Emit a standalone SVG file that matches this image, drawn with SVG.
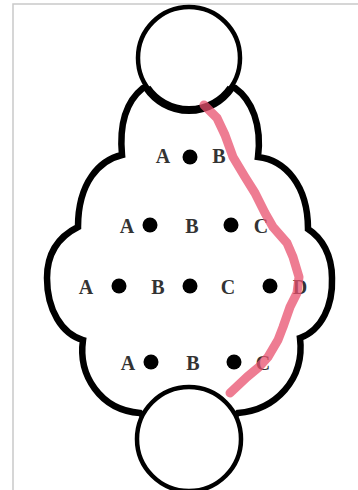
<svg xmlns="http://www.w3.org/2000/svg" width="358" height="490" viewBox="0 0 358 490">
<style>
.frame{fill:none;stroke:#c9c9c9;stroke-width:1.5}
.cloud{fill:#fff;stroke:#000;stroke-width:6.5;stroke-linejoin:miter}
.circ{fill:#fff;stroke:#000;stroke-width:4.5}
.thick{fill:none;stroke:#000;stroke-width:8}
.dot{fill:#000}
.lbl{font-family:"Liberation Serif","Times New Roman",serif;font-weight:bold;font-size:20px;fill:#333;text-anchor:middle}
.route{fill:none;stroke:#e8506e;stroke-opacity:0.75;stroke-width:9;stroke-linecap:round;stroke-linejoin:round}
</style>
<rect width="358" height="490" fill="#fff"/>
<path class="frame" d="M13,490 L13,4 L358,4"/>
<g id="cloud">
<path class="cloud" d="M143,88 C128,100 119,122 122,155 C100,160 78,182 78,227 C60,236 47,252 47,278 C47,310 62,334 83,340 C78,375 100,410 140,413 L160,430 L218,430 L238,413 C275,410 305,380 300,338 C322,330 333,305 332,278 C332,255 322,238 308,229 C308,185 285,160 258,157 C262,125 252,100 235,88 L210,78 L168,78 Z"/>
</g>
<g id="top-node">
<circle class="circ" cx="189" cy="58" r="51"/>
<path class="thick" d="M147,88 A51,51 0 0 0 231,88"/>
</g>
<g id="bottom-node">
<circle class="circ" cx="189" cy="439" r="52"/>
</g>
<g id="row1">
<circle class="dot" cx="190" cy="157" r="7.5"/>
<text class="lbl" x="163" y="163">A</text>
<text class="lbl" x="219" y="163">B</text>
</g>
<g id="row2">
<circle class="dot" cx="150" cy="225" r="7.5"/>
<circle class="dot" cx="231" cy="225" r="7.5"/>
<text class="lbl" x="127" y="233">A</text>
<text class="lbl" x="192" y="233">B</text>
<text class="lbl" x="261" y="233">C</text>
</g>
<g id="row3">
<circle class="dot" cx="119" cy="286" r="7.5"/>
<circle class="dot" cx="190" cy="286" r="7.5"/>
<circle class="dot" cx="270" cy="286" r="7.5"/>
<text class="lbl" x="86" y="294">A</text>
<text class="lbl" x="158" y="294">B</text>
<text class="lbl" x="228" y="294">C</text>
<text class="lbl" x="300" y="294">D</text>
</g>
<g id="row4">
<circle class="dot" cx="151" cy="362" r="7.5"/>
<circle class="dot" cx="234" cy="362" r="7.5"/>
<text class="lbl" x="128" y="370">A</text>
<text class="lbl" x="193" y="370">B</text>
<text class="lbl" x="263" y="370">C</text>
</g>
<g id="connectors">
<path class="route" d="M204,105 L217,118 L225,135 L233,157 L245,177 L255,193 L265,213 L273,227 L287,243 L293,257 L299,277 L297,293 L290,307 L283,327 L278,340 L268,357 L259,367 L247,377 L230,393"/>
</g>
</svg>
